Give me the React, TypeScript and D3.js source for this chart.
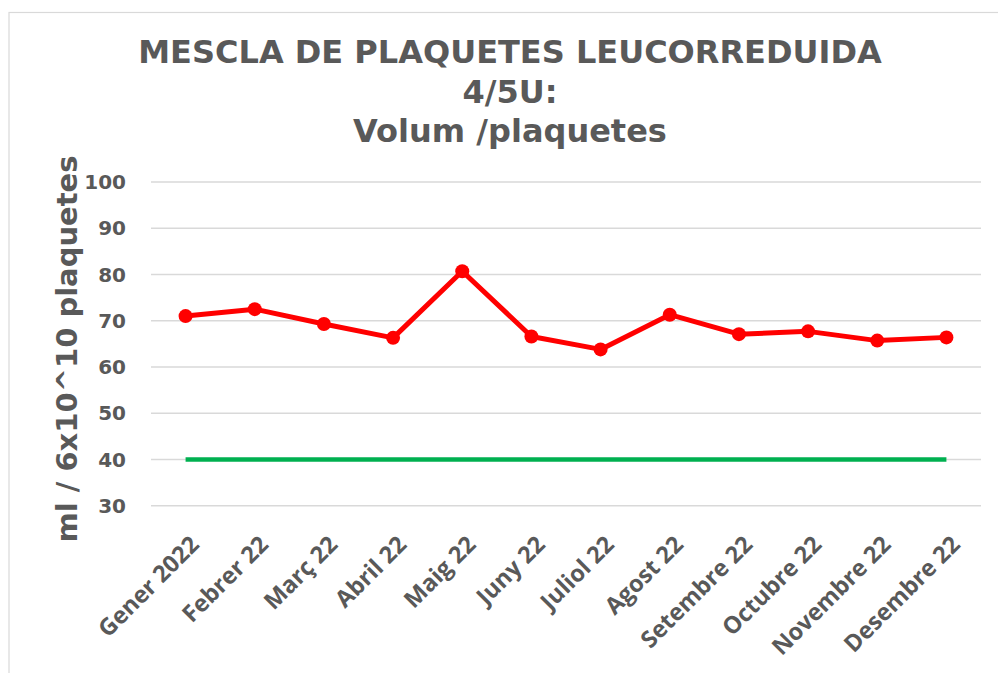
import React from "react";
import * as d3 from "d3";

const months = ["Gener 2022", "Febrer 22", "Març 22", "Abril 22", "Maig 22", "Juny 22", "Juliol 22", "Agost 22", "Setembre 22", "Octubre 22", "Novembre 22", "Desembre 22"];
const volume = [71.0, 72.5, 69.3, 66.3, 80.7, 66.6, 63.8, 71.3, 67.1, 67.7, 65.7, 66.4];
const minimum = [40, 40, 40, 40, 40, 40, 40, 40, 40, 40, 40, 40];
const yTicks = [30, 40, 50, 60, 70, 80, 90, 100];
const titleLines = ["MESCLA DE PLAQUETES LEUCORREDUIDA", "4/5U:", "Volum /plaquetes"];
const yTitle = "ml / 6x10^10 plaquetes";

const W = 998, H = 673;
const plot = { left: 151, right: 981, top: 182, bottom: 505.7 };
const grey = "#595959";
const titleFont = "Verdana, 'DejaVu Sans', sans-serif";

export default function App() {
  const x = d3.scaleBand<string>().domain(months).range([plot.left, plot.right]);
  const y = d3.scaleLinear().domain([30, 100]).range([plot.bottom, plot.top]);
  const cx = (m: string) => (x(m) as number) + x.bandwidth() / 2;
  const line = d3.line<number>().x((_, i) => cx(months[i])).y((v) => y(v));
  const baselines = [63, 103, 142];

  return (
    <svg width={W} height={H} style={{ position: "absolute", left: 0, top: 0 }}>
      <rect x={0} y={0} width={W} height={H} fill="#fff" />
      <rect x={9} y={12.5} width={W + 10} height={H + 10} fill="#fff" stroke="#d9d9d9" strokeWidth={1.2} />
      {titleLines.map((t, i) => (
        <text key={i} x={510} y={baselines[i]} textAnchor="middle" fontFamily={titleFont} fontWeight="bold" fontSize={32} fill={grey}>{t}</text>
      ))}
      {yTicks.map((t) => (
        <g key={t}>
          <line x1={plot.left} x2={plot.right} y1={y(t)} y2={y(t)} stroke="#d9d9d9" strokeWidth={1.5} />
          <text x={126} y={y(t)} dy="0.36em" textAnchor="end" fontFamily={titleFont} fontWeight="bold" fontSize={20} fill={grey}>{t}</text>
        </g>
      ))}
      <text transform={`translate(77,349) rotate(-90)`} textAnchor="middle" fontFamily={titleFont} fontWeight="bold" fontSize={29} fill={grey}>{yTitle}</text>
      {months.map((m) => (
        <text key={m} transform={`translate(${cx(m) + 15},${546}) rotate(-45)`} textAnchor="end" fontFamily="'Open Sans', sans-serif" fontWeight={700} fontSize={23.5} fill={grey}>{m}</text>
      ))}
      <path d={line(minimum) || ""} fill="none" stroke="#00b050" strokeWidth={4.5} />
      <path d={line(volume) || ""} fill="none" stroke="#ff0000" strokeWidth={5} strokeLinejoin="round" />
      {volume.map((v, i) => (
        <circle key={i} cx={cx(months[i])} cy={y(v)} r={7} fill="#ff0000" />
      ))}
    </svg>
  );
}
